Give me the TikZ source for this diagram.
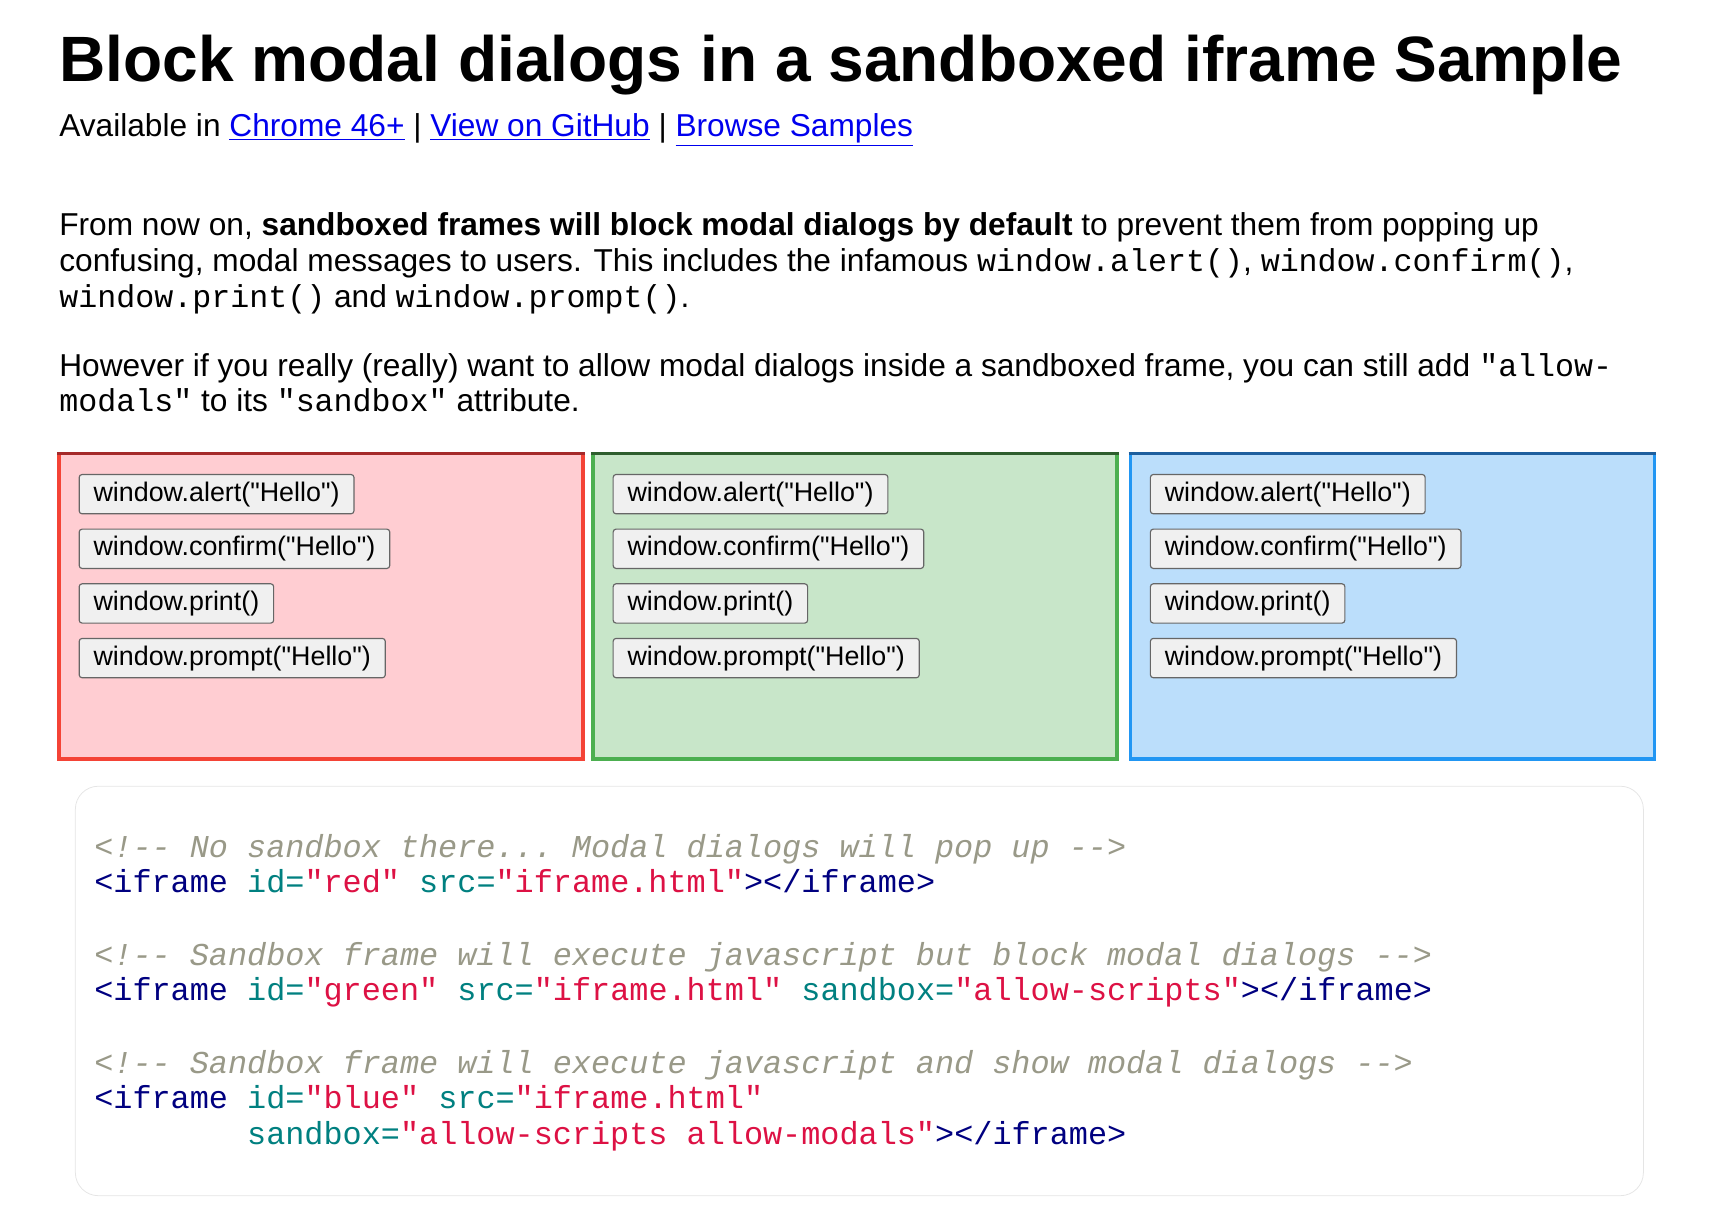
\documentclass[tikz,border=0pt]{standalone}
\usepackage{fontspec}
\setmainfont{Liberation Sans}[Ligatures=TeXOff]
\setmonofont{Liberation Mono}
\usetikzlibrary{positioning}
\definecolor{cLink}{HTML}{0000EE}
\definecolor{cCom}{HTML}{999988}
\definecolor{cTag}{HTML}{000080}
\definecolor{cAttr}{HTML}{008080}
\definecolor{cVal}{HTML}{DD1144}
\newcommand{\lnk}[1]{\textcolor{cLink}{\underline{#1}}}
\newcommand{\cm}[1]{\textcolor{cCom}{\itshape #1}}
\newcommand{\tg}[1]{\textcolor{cTag}{#1}}
\newcommand{\at}[1]{\textcolor{cAttr}{#1}}
\newcommand{\vl}[1]{\textcolor{cVal}{#1}}
\tikzset{
    tsTitle/.style={anchor=base west, inner sep=0pt, font=\fontsize{33.4}{38}\selectfont\bfseries},
    tsBody/.style={anchor=base west, inner sep=0pt, font=\fontsize{16.5}{19}\selectfont},
    tsCode/.style={anchor=base west, inner sep=0pt, font=\fontsize{16.6}{19}\selectfont\ttfamily},
    tsButton/.style={anchor=north west, draw=gray!80!black, fill=gray!12, rounded corners=1.5pt,
        line width=0.6pt, minimum height=0.72cm, inner xsep=7.5pt, inner ysep=0pt,
        font=\fontsize{14}{16}\selectfont}
}
\begin{document}
\begin{tikzpicture}[x=0.02cm, y=-0.02cm]
    \useasboundingbox (0,0) rectangle (1566,1110);

    % Heading
    \node[tsTitle] (title) at (54,75) {Block modal dialogs in a sandboxed iframe Sample};
    \node[tsBody] (avail) at (54,125) {Available in \lnk{Chrome 46+} | \lnk{View on GitHub} | \lnk{Browse Samples}};

    % Text
    \node[tsBody] (p1a) at (54,216) {From now on, \textbf{sandboxed frames will block modal dialogs by default} to prevent them from popping up};
    \node[tsBody] (p1b) at (54,249) {confusing, modal messages to users. This includes the infamous \texttt{window.alert()}, \texttt{window.confirm()},};
    \node[tsBody] (p1c) at (54,282) {\texttt{window.print()} and \texttt{window.prompt()}.};
    \node[tsBody] (p2a) at (54,345) {However if you really (really) want to allow modal dialogs inside a sandboxed frame, you can still add \texttt{"allow-}};
    \node[tsBody] (p2b) at (54,377) {\texttt{modals"} to its \texttt{"sandbox"} attribute.};

    % Frames
    \foreach \nm/\xx/\fc/\bc/\tc in {red/54/FFCDD2/F44336/A52A2A,
                                     green/543/C8E6C9/4CAF50/2E5E2E,
                                     blue/1035/BBDEFB/2196F3/1E5F9E} {
        \definecolor{fFill}{HTML}{\fc}
        \definecolor{fLine}{HTML}{\bc}
        \definecolor{fTop}{HTML}{\tc}
        \fill[fFill] (\xx,415) rectangle ++(480,280);
        \draw[fLine, line width=1.7pt] (\xx,415) rectangle ++(480,280);
        \draw[fTop, line width=1.7pt] (\xx-1.5,415) -- ++(483,0);
        \node[tsButton] (\nm-alert) at (\xx+18,434) {window.alert("Hello")};
        \node[tsButton, below=0.26cm of \nm-alert.south west, anchor=north west] (\nm-confirm) {window.confirm("Hello")};
        \node[tsButton, below=0.26cm of \nm-confirm.south west, anchor=north west] (\nm-print) {window.print()};
        \node[tsButton, below=0.26cm of \nm-print.south west, anchor=north west] (\nm-prompt) {window.prompt("Hello")};
    }

    % Code
    \draw[gray!20, fill=white, rounded corners=12] (69,720) rectangle (1505,1095);
    \node[tsCode] (c1) at (86,785) {\cm{<!-- No sandbox there... Modal dialogs will pop up -->}};
    \node[tsCode] (c2) at (86,817) {\tg{<iframe} \at{id=}\vl{"red"} \at{src=}\vl{"iframe.html"}\tg{></iframe>}};
    \node[tsCode] (c3) at (86,884) {\cm{<!-- Sandbox frame will execute javascript but block modal dialogs -->}};
    \node[tsCode] (c4) at (86,916) {\tg{<iframe} \at{id=}\vl{"green"} \at{src=}\vl{"iframe.html"} \at{sandbox=}\vl{"allow-scripts"}\tg{></iframe>}};
    \node[tsCode] (c5) at (86,983) {\cm{<!-- Sandbox frame will execute javascript and show modal dialogs -->}};
    \node[tsCode] (c6) at (86,1015) {\tg{<iframe} \at{id=}\vl{"blue"} \at{src=}\vl{"iframe.html"}};
    \node[tsCode] (c7) at (226,1048) {\at{sandbox=}\vl{"allow-scripts allow-modals"}\tg{></iframe>}};
\end{tikzpicture}
\end{document}
